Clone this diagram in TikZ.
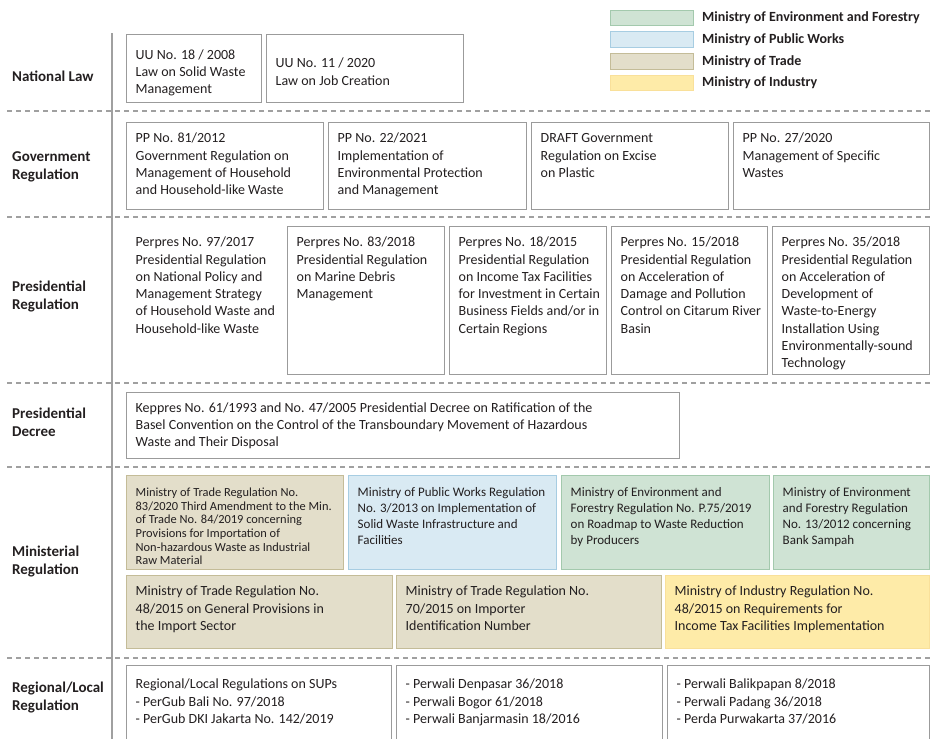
\documentclass[tikz,border=0pt]{standalone}
\usepackage{fontspec}
\setmainfont{Carlito}
\usetikzlibrary{positioning}

\definecolor{boxline}{HTML}{9B9B9B}
\definecolor{sepgray}{HTML}{A0A0A0}
\definecolor{inkgray}{HTML}{231F20}
\definecolor{envfill}{HTML}{CFE3D4}
\definecolor{envline}{HTML}{A3C9AD}
\definecolor{pwfill}{HTML}{D9EAF3}
\definecolor{pwline}{HTML}{A7CDE2}
\definecolor{tradefill}{HTML}{E3DECA}
\definecolor{tradeline}{HTML}{C4BC98}
\definecolor{indfill}{HTML}{FEEBA8}
\definecolor{indline}{HTML}{F9E09A}

\tikzset{
  firstline/.store in=\firstbase, firstline=20pt,
  regbox/.style={draw=boxline, line width=1.4pt, inner sep=0pt, fill=white,
    text=inkgray, font=\fontsize{14}{17.3}\selectfont},
  midtext/.style={font=\fontsize{13}{16}\selectfont, firstline=21pt},
  smalltext/.style={font=\fontsize{12.4}{13.6}\selectfont, firstline=21pt},
  envreg/.style={fill=envfill, draw=envline},
  pwreg/.style={fill=pwfill, draw=pwline},
  tradereg/.style={fill=tradefill, draw=tradeline},
  indreg/.style={fill=indfill, draw=indline},
  rowlabel/.style={anchor=west, align=left, inner sep=0pt, text=inkgray,
    font=\bfseries\fontsize{15}{18}\selectfont},
  sepline/.style={draw=sepgray, line width=1.3pt, dash pattern=on 5pt off 4pt},
  legbox/.style={minimum width=83pt, minimum height=15.5pt, inner sep=0pt, line width=1pt},
  legtext/.style={anchor=west, inner sep=0pt, text=inkgray,
    font=\bfseries\fontsize{14}{16}\selectfont},
}

% box from (x1,y1) to (x2,y2), text set from its top left corner
\newcommand{\regbox}[7][]{%
  \pgfmathsetmacro\boxw{#5-#3}%
  \pgfmathsetmacro\boxh{#6-#4}%
  \node[regbox,#1,anchor=north west] (#2) at (#3,#4)
    {\parbox[t][\boxh pt][t]{\boxw pt}{\raggedright\leftskip=9pt
      \vspace*{\dimexpr\firstbase-\ht\strutbox\relax}\strut#7}};}

\begin{document}
\begin{tikzpicture}[x=1pt, y=-1pt]
  \useasboundingbox (0,0) rectangle (930,739);

  % legend
  \node[legbox, fill=envfill, draw=envline] (leg-env) at (651.5,17.75) {};
  \node[legbox, fill=pwfill, draw=pwline, below=5.3pt of leg-env] (leg-pw) {};
  \node[legbox, fill=tradefill, draw=tradeline, below=5.3pt of leg-pw] (leg-trade) {};
  \node[legbox, fill=indfill, draw=indline, below=5.3pt of leg-trade] (leg-ind) {};
  \node[legtext, right=8.5pt of leg-env] (legt-env) {Ministry of Environment and Forestry};
  \node[legtext, right=8.5pt of leg-pw] (legt-pw) {Ministry of Public Works};
  \node[legtext, right=8.5pt of leg-trade] (legt-trade) {Ministry of Trade};
  \node[legtext, right=8.5pt of leg-ind] (legt-ind) {Ministry of Industry};

  % grid
  \draw[draw=sepgray, line width=2pt] (112,33) -- (112,739);
  \foreach \y in {111,217,383,467,658}
    \draw[sepline] (7,\y) -- (930,\y);

  % row labels
  \node[rowlabel] (lbl-law) at (12,76) {National Law};
  \node[rowlabel] (lbl-gov) at (12,167) {Government\\Regulation};
  \node[rowlabel] (lbl-pres) at (12,296) {Presidential\\Regulation};
  \node[rowlabel] (lbl-dec) at (12,422) {Presidential\\Decree};
  \node[rowlabel] (lbl-min) at (12,562) {Ministerial\\Regulation};
  \node[rowlabel] (lbl-reg) at (12,698) {Regional/Local\\Regulation};

  % national law
  \regbox[firstline=24.5pt]{uu18}{126}{34}{261}{102}{UU No. 18 / 2008\\Law on Solid Waste\\Management}
  \regbox[firstline=33pt]{uu11}{266}{34}{463}{102}{UU No. 11 / 2020\\Law on Job Creation}

  % government regulation
  \regbox{pp81}{126}{122}{323}{209}{PP No. 81/2012\\Government Regulation on\\Management of Household\\and Household-like Waste}
  \regbox{pp22}{328}{122}{526}{209}{PP No. 22/2021\\Implementation of\\Environmental Protection\\and Management}
  \regbox{ppdraft}{531}{122}{728}{209}{DRAFT Government\\Regulation on Excise\\on Plastic}
  \regbox{pp27}{733}{122}{929}{209}{PP No. 27/2020\\Management of Specific\\Wastes}

  % presidential regulation
  \regbox[draw=none]{perpres97}{126}{226}{282}{374}{Perpres No. 97/2017\\Presidential Regulation\\on National Policy and\\Management Strategy\\of Household Waste and\\Household-like Waste}
  \regbox{perpres83}{287}{226}{444}{374}{Perpres No. 83/2018\\Presidential Regulation\\on Marine Debris\\Management}
  \regbox{perpres18}{449}{226}{606}{374}{Perpres No. 18/2015\\Presidential Regulation\\on Income Tax Facilities\\for Investment in Certain\\Business Fields and/or in\\Certain Regions}
  \regbox{perpres15}{611}{226}{767}{374}{Perpres No. 15/2018\\Presidential Regulation\\on Acceleration of\\Damage and Pollution\\Control on Citarum River\\Basin}
  \regbox{perpres35}{772}{226}{929}{374}{Perpres No. 35/2018\\Presidential Regulation\\on Acceleration of\\Development of\\Waste-to-Energy\\Installation Using\\Environmentally-sound\\Technology}

  % presidential decree
  \regbox[firstline=19.5pt]{keppres}{126}{392}{679}{458}{Keppres No. 61/1993 and No. 47/2005 Presidential Decree on Ratification of the\\Basel Convention on the Control of the Transboundary Movement of Hazardous\\Waste and Their Disposal}

  % ministerial regulation
  \regbox[tradereg,smalltext]{mot83}{126}{475}{343}{569}{Ministry of Trade Regulation No.\\83/2020 Third Amendment to the Min.\\of Trade No. 84/2019 concerning\\Provisions for Importation of\\Non-hazardous Waste as Industrial\\Raw Material}
  \regbox[pwreg,midtext]{mopw3}{348}{475}{556}{569}{Ministry of Public Works Regulation\\No. 3/2013 on Implementation of\\Solid Waste Infrastructure and\\Facilities}
  \regbox[envreg,midtext]{moef75}{561}{475}{769}{569}{Ministry of Environment and\\Forestry Regulation No. P.75/2019\\on Roadmap to Waste Reduction\\by Producers}
  \regbox[envreg,midtext]{moef13}{773}{475}{929}{569}{Ministry of Environment\\and Forestry Regulation\\No. 13/2012 concerning\\Bank Sampah}
  \regbox[tradereg]{mot48}{126}{575}{392}{648}{Ministry of Trade Regulation No.\\48/2015 on General Provisions in\\the Import Sector}
  \regbox[tradereg]{mot70}{396}{575}{661}{648}{Ministry of Trade Regulation No.\\70/2015 on Importer\\Identification Number}
  \regbox[indreg]{moi48}{665}{575}{929}{648}{Ministry of Industry Regulation No.\\48/2015 on Requirements for\\Income Tax Facilities Implementation}

  % regional / local regulation
  \regbox[firstline=23pt]{local1}{126}{665}{391}{746}{Regional/Local Regulations on SUPs\\- PerGub Bali No. 97/2018\\- PerGub DKI Jakarta No. 142/2019}
  \regbox[firstline=23pt]{local2}{396}{665}{662}{746}{- Perwali Denpasar 36/2018\\- Perwali Bogor 61/2018\\- Perwali Banjarmasin 18/2016}
  \regbox[firstline=23pt]{local3}{667}{665}{929}{746}{- Perwali Balikpapan 8/2018\\- Perwali Padang 36/2018\\- Perda Purwakarta 37/2016}
\end{tikzpicture}
\end{document}
